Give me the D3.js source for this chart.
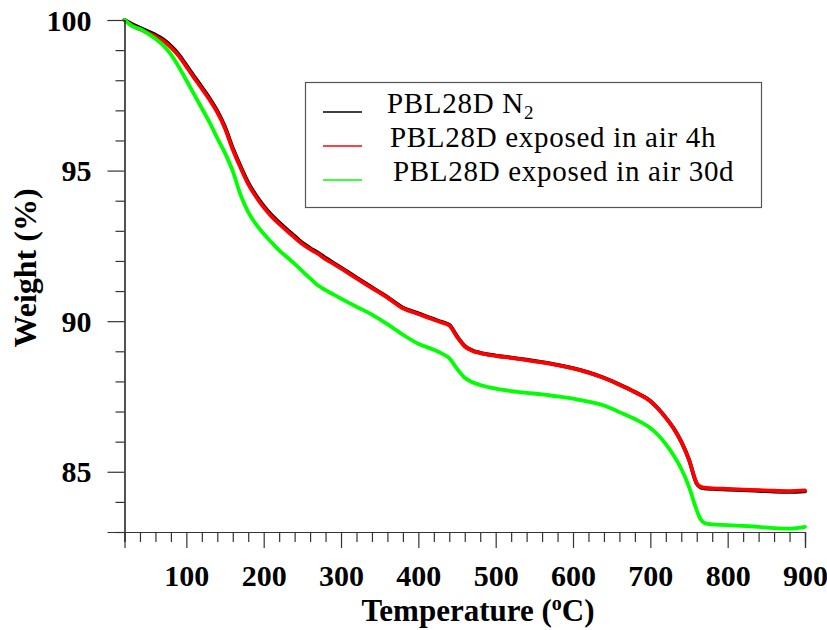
<!DOCTYPE html>
<html>
<head>
<meta charset="utf-8">
<script src="https://cdn.jsdelivr.net/npm/d3@7"></script>
<style>
  html, body { margin: 0; padding: 0; background: #fff; }
  svg { display: block; }
  text { font-family: "Liberation Serif", "Times New Roman", serif; }
</style>
</head>
<body>
<svg id="chart" width="827" height="630"></svg>
<script>
// ---- data ----
const temps = [20, 30, 40, 50, 60, 70, 80, 90, 100, 110, 120, 130, 140, 150, 160, 170, 180, 190, 200,
  210, 220, 230, 240, 250, 260, 270, 280, 290, 300, 320, 340, 360, 380, 400, 420, 430, 440, 450, 460,
  470, 480, 500, 520, 540, 560, 580, 600, 620, 640, 660, 680, 700, 710, 720, 730, 740, 750, 760, 765,
  770, 780, 800, 820, 840, 860, 880, 900];

const blackN2 = [100, 99.86, 99.74, 99.63, 99.51, 99.36, 99.14, 98.86, 98.5, 98.13, 97.77, 97.4, 96.98,
  96.45, 95.75, 95.15, 94.6, 94.18, 93.83, 93.53, 93.28, 93.05, 92.83, 92.6, 92.43, 92.28, 92.1, 91.94,
  91.78, 91.45, 91.12, 90.8, 90.45, 90.26, 90.07, 89.98, 89.88, 89.5, 89.18, 89.03, 88.95, 88.86, 88.79,
  88.72, 88.64, 88.55, 88.44, 88.3, 88.12, 87.9, 87.65, 87.35, 87.1, 86.8, 86.45, 86.0, 85.4, 84.6, 84.48,
  84.45, 84.43, 84.41, 84.39, 84.37, 84.34, 84.33, 84.35];

const redAir4h = [100, 99.82, 99.69, 99.58, 99.46, 99.31, 99.09, 98.81, 98.45, 98.08, 97.72, 97.35, 96.93,
  96.4, 95.7, 95.1, 94.55, 94.13, 93.78, 93.48, 93.23, 93.0, 92.78, 92.56, 92.39, 92.24, 92.06, 91.91,
  91.75, 91.42, 91.1, 90.78, 90.43, 90.24, 90.05, 89.96, 89.86, 89.48, 89.16, 89.01, 88.94, 88.85, 88.78,
  88.71, 88.63, 88.54, 88.43, 88.29, 88.11, 87.89, 87.64, 87.34, 87.09, 86.79, 86.44, 85.99, 85.4, 84.62,
  84.5, 84.47, 84.45, 84.43, 84.41, 84.39, 84.37, 84.36, 84.38];

const greenAir30d = [100, 99.8, 99.7, 99.55, 99.38, 99.16, 98.86, 98.45, 98.0, 97.53, 97.07, 96.6, 96.08,
  95.58, 94.98, 94.2, 93.62, 93.22, 92.9, 92.62, 92.35, 92.13, 91.9, 91.66, 91.42, 91.19, 91.03, 90.89,
  90.75, 90.48, 90.22, 89.9, 89.55, 89.25, 89.05, 88.93, 88.77, 88.42, 88.12, 87.97, 87.88, 87.76, 87.68,
  87.62, 87.57, 87.5, 87.43, 87.33, 87.2, 86.98, 86.75, 86.45, 86.22, 85.92, 85.55, 85.1, 84.5, 83.72,
  83.42, 83.3, 83.25, 83.23, 83.2, 83.17, 83.13, 83.11, 83.17];

const seriesNames = ["PBL28D N", "PBL28D exposed in air 4h", "PBL28D exposed in air 30d"];
const seriesColors = ["#000000", "#ff0000", "#00ff00"];
const xTickValues = [100, 200, 300, 400, 500, 600, 700, 800, 900];
const yTickValues = [85, 90, 95, 100];

// ---- layout ----
const svg = d3.select("#chart");
const x = d3.scaleLinear().domain([20, 900]).range([124.5, 805]);
const y = d3.scaleLinear().domain([83, 100]).range([532, 20]);

const axisColor = "#333";

// curves
const allSeries = [blackN2, redAir4h, greenAir30d];
const line = d3.line()
  .x((d, i) => x(temps[i]))
  .y(d => y(d))
  .curve(d3.curveMonotoneX);

[0, 1, 2].forEach(k => {
  svg.append("path")
    .attr("d", line(allSeries[k]))
    .attr("fill", "none")
    .attr("stroke", seriesColors[k])
    .attr("stroke-width", 3.8)
    .attr("stroke-linejoin", "round")
    .attr("stroke-linecap", "round");
});

// x axis
const xMinor = d3.range(20, 901, 20).filter(v => !xTickValues.includes(v));
const xAxisMinor = d3.axisBottom(x).tickValues(xMinor).tickSize(10).tickFormat("");
const xAxisMajor = d3.axisBottom(x).tickValues(xTickValues).tickSize(16).tickFormat(d3.format("d"));

const gxMinor = svg.append("g").attr("transform", "translate(0,532)").call(xAxisMinor);
const gx = svg.append("g").attr("transform", "translate(0,532)").call(xAxisMajor);
[gxMinor, gx].forEach(g => {
  g.select(".domain").attr("stroke", axisColor).attr("stroke-width", 1.2);
  g.selectAll(".tick line").attr("stroke", axisColor).attr("stroke-width", 1.2);
});
gx.selectAll(".tick text")
  .attr("y", 54)
  .attr("dy", 0)
  .attr("fill", "#000")
  .style("font-size", "30px")
  .style("font-weight", "bold")
  .style("font-family", "'Liberation Serif', 'Times New Roman', serif");

// y axis
const yMinor = d3.range(83, 101, 1).filter(v => !yTickValues.includes(v));
const yAxisMinor = d3.axisLeft(y).tickValues(yMinor).tickSize(9).tickFormat("");
const yAxisMajor = d3.axisLeft(y).tickValues(yTickValues).tickSize(17).tickFormat(d3.format("d"));
const gyMinor = svg.append("g").attr("transform", "translate(124.5,0)").call(yAxisMinor);
const gy = svg.append("g").attr("transform", "translate(124.5,0)").call(yAxisMajor);
[gyMinor, gy].forEach(g => {
  g.select(".domain").attr("stroke", axisColor).attr("stroke-width", 1.2);
  g.selectAll(".tick line").attr("stroke", axisColor).attr("stroke-width", 1.2);
});
gy.selectAll(".tick text")
  .attr("x", -33)
  .attr("dy", "0.34em")
  .attr("fill", "#000")
  .style("font-size", "30px")
  .style("font-weight", "bold")
  .style("font-family", "'Liberation Serif', 'Times New Roman', serif");

// axis titles
const xt = svg.append("text")
  .attr("x", 478).attr("y", 621)
  .attr("text-anchor", "middle")
  .style("font-size", "31px").style("font-weight", "bold");
xt.append("tspan").text("Temperature (");
xt.append("tspan").text("o").attr("dy", -11).style("font-size", "20px");
xt.append("tspan").text("C)").attr("dy", 11);

svg.append("text")
  .attr("transform", "translate(36,268) rotate(-90)")
  .attr("text-anchor", "middle")
  .style("font-size", "32px").style("font-weight", "bold")
  .text("Weight (%)");

// legend
const lg = svg.append("g");
lg.append("rect")
  .attr("x", 305.5).attr("y", 82.5).attr("width", 456).attr("height", 125)
  .attr("fill", "#fff").attr("stroke", "#555").attr("stroke-width", 1.2);
const rowY = [112, 146, 180];
seriesNames.forEach((name, i) => {
  lg.append("line")
    .attr("x1", 323).attr("x2", 362)
    .attr("y1", rowY[i]).attr("y2", rowY[i])
    .attr("stroke", seriesColors[i]).attr("stroke-width", 1.3);
  const t = lg.append("text")
    .attr("x", 387 + i * 3).attr("y", rowY[i] + 1)
    .style("font-size", "29px")
    .style("letter-spacing", "0.7px")
    .text(name);
  if (i === 0) {
    t.append("tspan").text("2").attr("dy", 6).style("font-size", "19px");
  }
});
</script>
</body>
</html>
